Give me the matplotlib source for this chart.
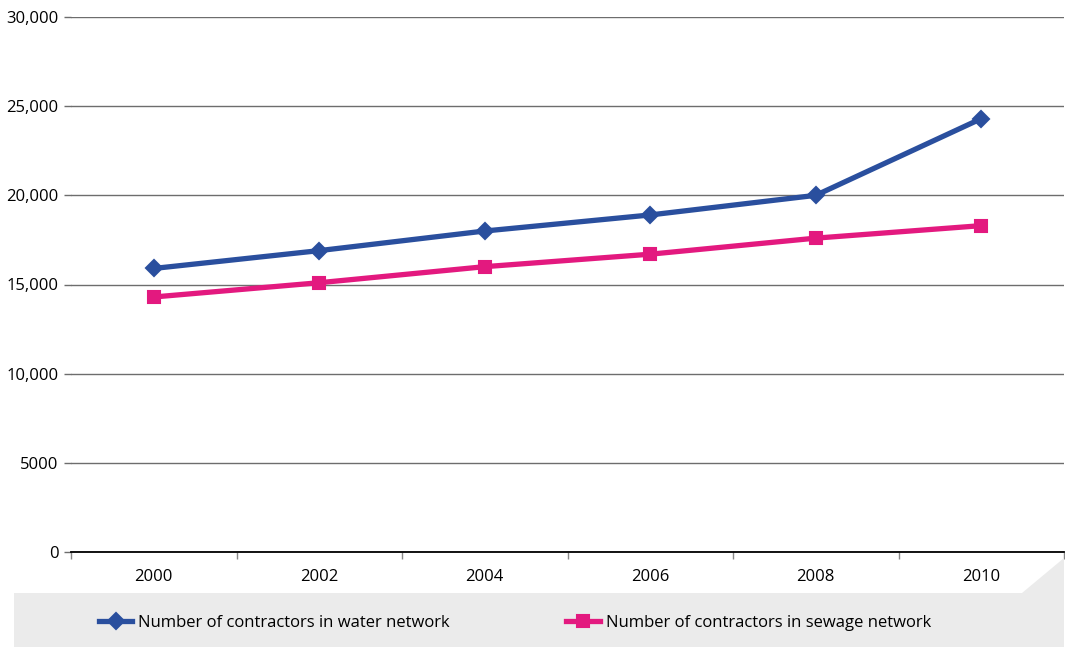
import matplotlib.pyplot as plt
from matplotlib.lines import Line2D
from matplotlib.patches import Polygon

plt.rcParams['font.family'] = ['Open Sans', 'DejaVu Sans']

years = ['2000', '2002', '2004', '2006', '2008', '2010']
water = [15900, 16900, 18000, 18900, 20000, 24300]  # water network contractors
sewage = [14300, 15100, 16000, 16700, 17600, 18300]  # sewage network contractors
yticks = [0, 5000, 10000, 15000, 20000, 25000, 30000]
ylabels = ['0', '5000', '10,000', '15,000', '20,000', '25,000', '30,000']
names = ['Number of contractors in water network', 'Number of contractors in sewage network']

blue = '#2a4f9e'
pink = '#e3197f'
W, H = 1065, 647

fig = plt.figure(figsize=(W / 100, H / 100), dpi=100)
ax = fig.add_axes([71 / W, (H - 552) / H, 993 / W, 535 / H])

# grey legend band with the cut corner
band = Polygon([(14 / W, 0), (14 / W, (H - 593) / H), (1022 / W, (H - 593) / H),
                (1064 / W, (H - 558) / H), (1064 / W, 0)],
               closed=True, transform=fig.transFigure, facecolor='#ebebeb', edgecolor='none', zorder=0)
fig.patches.append(band)

x = list(range(len(years)))
ax.plot(x, water, color=blue, lw=3.8, marker='D', ms=8, mew=1.5, mec=blue, mfc=blue,
        solid_joinstyle='round', zorder=3)
ax.plot(x, sewage, color=pink, lw=3.8, marker='s', ms=9, mew=1.5, mec=pink, mfc=pink,
        solid_joinstyle='round', zorder=3)

ax.set_xlim(-0.5, len(years) - 0.5)
ax.set_ylim(0, 30000)
ax.set_xticks(x)
ax.set_xticklabels(years)
ax.set_xticks([i - 0.5 for i in range(len(years) + 1)], minor=True)
ax.set_yticks(yticks)
ax.set_yticklabels(ylabels)
ax.tick_params(axis='x', which='major', length=0, pad=12, labelsize=12)
ax.tick_params(axis='x', which='minor', length=5, color='#888888', width=1)
ax.tick_params(axis='y', length=5, color='#6d6d6d', width=1, pad=4, labelsize=12)
ax.yaxis.grid(True, color='#6d6d6d', lw=1)
ax.set_axisbelow(True)
for s in ['top', 'right', 'left']:
    ax.spines[s].set_visible(False)
ax.spines['bottom'].set_color('black')
ax.spines['bottom'].set_linewidth(1.3)
ax.spines['bottom'].set_zorder(2)

handles = [Line2D([], [], color=blue, lw=3.8, marker='D', ms=8, mew=1.5),
           Line2D([], [], color=pink, lw=3.8, marker='s', ms=9, mew=1.5)]
fig.legend(handles, names, ncol=2, frameon=False, loc='center left',
           bbox_to_anchor=(84 / W, (H - 623) / H), fontsize=12, numpoints=1,
           handlelength=2.0, handletextpad=0.35, columnspacing=7.0)

fig.savefig('out.png', dpi=100)
